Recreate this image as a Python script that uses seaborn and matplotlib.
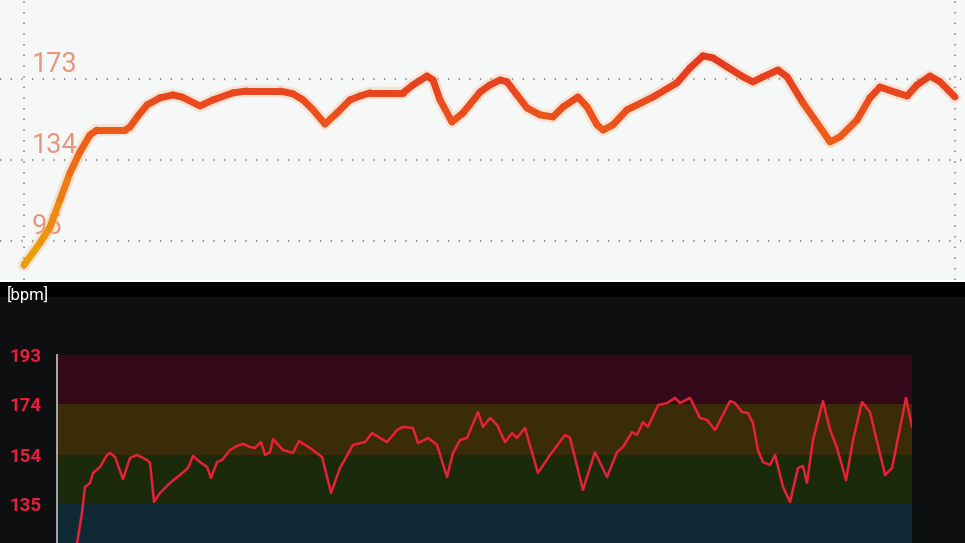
import numpy as np
import pandas as pd
import matplotlib
matplotlib.use("Agg")
import matplotlib.pyplot as plt
import seaborn as sns
from matplotlib.collections import LineCollection
from matplotlib.colors import LinearSegmentedColormap, Normalize
from matplotlib.patches import Rectangle

# ---- top chart (light app screenshot): minutes / bpm ----
top_time = [0.00, 1.03, 1.68, 2.32, 2.96, 3.61, 4.25, 4.70, 6.51, 6.83, 7.35, 7.93, 8.77,
            9.60, 10.18, 11.34, 12.18, 13.47, 14.37, 16.50, 17.34, 17.98, 18.63, 19.40,
            20.17, 21.01, 21.66, 22.30, 24.43, 25.07, 25.97, 26.36, 26.81, 27.58, 28.29,
            29.39, 30.03, 30.68, 31.13, 31.77, 32.42, 33.26, 34.09, 34.74, 35.70, 36.29,
            36.93, 37.32, 37.96, 38.86, 40.54, 42.08, 42.92, 43.76, 44.41, 45.31, 46.34,
            46.98, 47.63, 48.59, 49.18, 50.21, 51.11, 51.95, 52.59, 53.69, 54.52, 55.17,
            56.26, 56.91, 57.55, 58.39, 59.04, 60.00]
top_bpm = [83.4, 94.0, 101.7, 114.7, 127.7, 137.9, 146.0, 148.4, 148.4, 149.9, 155.2, 160.5, 163.9,
           165.3, 164.3, 160.0, 162.9, 166.3, 167.2, 167.2, 165.8, 162.9, 158.1, 151.3,
           156.6, 162.9, 164.8, 166.3, 166.3, 170.1, 174.4, 172.5, 162.9, 152.3, 156.6,
           166.7, 170.1, 172.5, 171.6, 165.3, 159.0, 155.7, 154.7, 159.5, 164.3, 159.5,
           150.9, 148.4, 150.9, 158.1, 164.3, 171.1, 178.3, 184.1, 183.1, 178.8, 174.0,
           171.6, 174.0, 177.3, 174.0, 161.4, 151.8, 142.7, 145.1, 153.3, 163.9, 169.1,
           166.3, 164.8, 170.1, 174.4, 171.6, 164.3]
top_ticks = [95, 134, 173]

# ---- bottom chart (dark app screenshot): minutes / bpm ----
bot_time = [1.30, 1.75, 1.96, 2.32, 2.53, 3.02, 3.51, 3.72, 4.07, 4.63, 5.12, 5.61, 6.32,
            6.53, 6.81, 7.23, 7.93, 8.63, 9.19, 9.54, 10.04, 10.53, 10.81, 11.23, 11.58,
            12.14, 12.63, 13.05, 13.54, 13.89, 14.32, 14.60, 14.95, 15.16, 15.86, 16.56,
            16.98, 17.75, 18.60, 19.23, 19.86, 20.77, 21.61, 22.11, 23.16, 23.86, 24.28,
            24.98, 25.33, 26.04, 26.67, 27.37, 27.79, 28.28, 28.77, 29.54, 29.89, 30.39,
            30.88, 31.44, 31.93, 32.28, 32.84, 33.75, 34.60, 35.65, 36.00, 36.91, 37.75,
            38.60, 39.30, 39.72, 40.35, 40.70, 41.12, 41.47, 42.18, 42.81, 43.37, 43.72,
            44.42, 45.12, 45.61, 46.18, 47.23, 47.58, 48.07, 48.49, 48.84, 49.19, 49.54,
            50.04, 50.39, 50.95, 51.44, 52.00, 52.35, 52.63, 53.05, 53.75, 54.25, 54.74,
            55.37, 55.86, 56.49, 57.05, 58.11, 58.60, 59.58, 60.00]
bot_bpm = [116.0, 131.5, 141.6, 143.2, 147.1, 149.4, 154.1, 154.9, 153.3, 144.7, 152.9, 154.1, 152.1,
           151.0, 135.8, 139.3, 143.2, 146.3, 149.0, 153.7, 151.3, 149.4, 145.1, 151.3, 152.1,
           156.0, 157.6, 158.4, 157.2, 156.8, 159.1, 154.1, 155.2, 160.3, 156.0, 154.9,
           159.5, 156.8, 153.3, 139.3, 149.0, 158.0, 159.1, 162.6, 159.1, 163.8, 165.0,
           164.6, 158.7, 160.7, 158.0, 145.5, 154.9, 159.9, 160.7, 170.8, 165.0, 168.5,
           165.8, 159.1, 162.6, 160.7, 164.6, 147.1, 154.1, 161.9, 160.7, 140.5, 155.2,
           145.5, 155.2, 157.2, 163.0, 161.9, 166.9, 165.0, 173.5, 174.3, 176.3, 174.3,
           176.3, 168.5, 167.7, 163.8, 175.1, 174.3, 170.8, 170.4, 166.5, 156.0, 151.3,
           150.2, 154.1, 141.6, 135.8, 149.0, 149.8, 143.2, 159.9, 175.1, 163.8, 156.8,
           144.3, 159.9, 174.7, 170.8, 146.3, 149.0, 176.3, 165.0]
zone_edges = [119, 135, 154, 174, 193]
zone_colors = ["#0f2a34", "#1b2a0b", "#3a2c08", "#330819"]
bot_ticks = [135, 154, 174, 193]

sns.set_theme(style="white")
plt.rcParams["font.family"] = ["Roboto", "DejaVu Sans"]

W, H = 965, 543
fig = plt.figure(figsize=(W / 100, H / 100), dpi=100, facecolor="white")

# dark background for lower screenshot
fig.patches.append(Rectangle((0, 0), 1, 261 / H, transform=fig.transFigure,
                             facecolor="#0e0f10", edgecolor="none", zorder=-5))
fig.patches.append(Rectangle((0, 246 / H), 1, 15 / H, transform=fig.transFigure,
                             facecolor="#000000", edgecolor="none", zorder=-4))

# ---------------- top panel ----------------
ax1 = fig.add_axes([0, 263 / H, 1, 280 / H])
ax1.set_facecolor("#f6f8f8")
px_t = 60 / 931
ax1.set_xlim(-24 * px_t, 60 + 10 * px_t)
ax1.set_ylim(76.2, 211.0)

for v in top_ticks:
    ax1.axhline(v, color="#9a9a9a", lw=1.6, ls=(0, (0.6, 4.2)), zorder=1)
    ax1.annotate(str(v), xy=(8 * px_t, v), xytext=(0, 5), textcoords="offset points",
                 va="baseline", ha="left", fontsize=19.5, color="#e8957c", zorder=2)
for xv in (0, 60):
    ax1.axvline(xv, color="#9a9a9a", lw=1.6, ls=(0, (0.6, 4.2)), zorder=1)

top_df = pd.DataFrame({"time": top_time, "bpm": top_bpm})
sns.lineplot(data=top_df, x="time", y="bpm", ax=ax1, color="#f5b48a", lw=9,
             alpha=0.3, zorder=3, legend=False)

cmap = LinearSegmentedColormap.from_list(
    "hr", [(0.0, "#e8a40a"), (0.3, "#ec8612"), (0.55, "#ee6418"), (0.8, "#e9481e"), (1.0, "#e2381f")])
norm = Normalize(83, 185)
pts = np.column_stack([top_df["time"], top_df["bpm"]])
segs = np.stack([pts[:-1], pts[1:]], axis=1)
mid = (top_df["bpm"].values[:-1] + top_df["bpm"].values[1:]) / 2
lc = LineCollection(segs, colors=cmap(norm(mid)), linewidths=5, capstyle="round",
                    joinstyle="round", zorder=4)
ax1.add_collection(lc)
ax1.set_xlabel("")
ax1.set_ylabel("")
ax1.set_xticks([])
ax1.set_yticks([])
for s in ax1.spines.values():
    s.set_visible(False)

# ---------------- bottom panel ----------------
ax2 = fig.add_axes([57 / W, 0, 855 / W, 188 / H])
ax2.set_facecolor("#0e0f10")
ax2.set_xlim(0, 60)
ax2.set_ylim(193 - 188 / 2.569, 193)
for lo, hi, c in zip(zone_edges[:-1], zone_edges[1:], zone_colors):
    ax2.axhspan(lo, hi, color=c, lw=0, zorder=0)

bot_df = pd.DataFrame({"time": bot_time, "bpm": bot_bpm})
sns.lineplot(data=bot_df, x="time", y="bpm", ax=ax2, color="#e8203a", lw=1.8,
             zorder=3, legend=False)

ax2.set_xlabel("")
ax2.set_ylabel("")
ax2.set_xticks([])
ax2.set_yticks(bot_ticks)
ax2.set_yticklabels([str(v) for v in bot_ticks], color="#e41f3c", fontsize=13.5, fontweight="bold")
ax2.tick_params(axis="y", length=0, pad=11)
for name, s in ax2.spines.items():
    s.set_visible(name == "left")
ax2.spines["left"].set_color("#a8a8a8")
ax2.spines["left"].set_linewidth(1.4)

fig.text(7 / W, 1 - 294 / H, "[bpm]", color="white", fontsize=12, va="center", ha="left")

fig.savefig("out.png", dpi=100, facecolor=fig.get_facecolor())
